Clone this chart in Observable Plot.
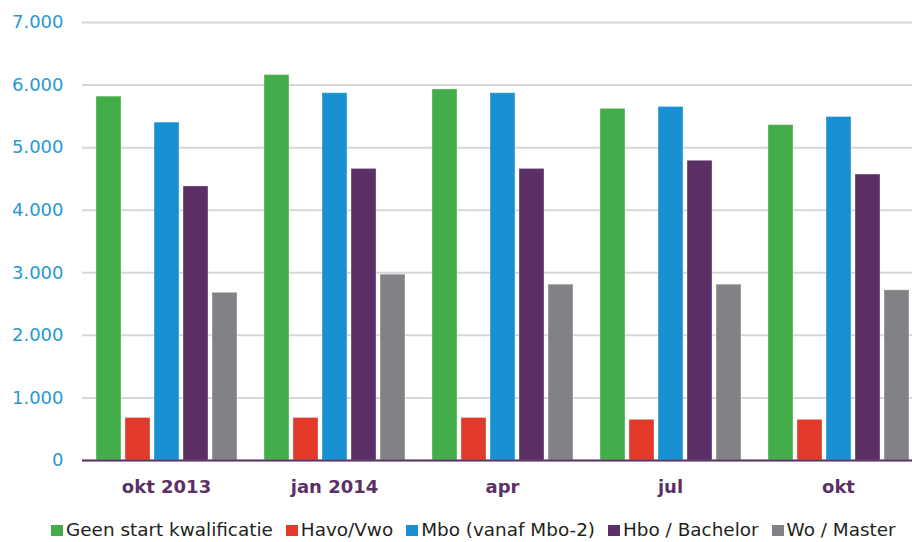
<!DOCTYPE html>
<html>
<head>
<meta charset="utf-8">
<script src="https://cdn.jsdelivr.net/npm/d3@7"></script>
<script src="https://cdn.jsdelivr.net/npm/@observablehq/plot@0.6"></script>
<style>
  html, body { margin: 0; padding: 0; background: #fff; overflow: hidden; }
  #wrap { position: relative; width: 912px; height: 542px; overflow: hidden; }
  #chart { position: absolute; left: 0; top: 0; }
  #legend { position: absolute; left: 51px; top: 520px; }
  .lg-swatches { font-family: "DejaVu Sans", sans-serif !important; font-size: 18.4px !important; line-height: 20px; color: #231f20; margin: 0 !important; }
  .lg-swatches-wrap { min-height: 0 !important; flex-wrap: nowrap !important; white-space: nowrap; }
  .lg-swatch { margin-right: 13px !important; }
  .lg-swatch > svg { margin-right: 3px !important; }
</style>
</head>
<body>
<div id="wrap"><div id="chart"></div><div id="legend"></div></div>
<script>
const periods = ["okt 2013", "jan 2014", "apr", "jul", "okt"];
const series = ["Geen start kwalificatie", "Havo/Vwo", "Mbo (vanaf Mbo-2)", "Hbo / Bachelor", "Wo / Master"];
const geen = [5815, 6160, 5930, 5620, 5360];
const havo = [680, 680, 680, 650, 650];
const mbo = [5400, 5870, 5870, 5650, 5490];
const hbo = [4380, 4660, 4660, 4790, 4570];
const wo = [2680, 2970, 2810, 2810, 2720];
const colors = ["#43ad49", "#e23a2a", "#1890d2", "#5a3066", "#808285"];
const yTicks = [0, 1000, 2000, 3000, 4000, 5000, 6000, 7000];

const values = [geen, havo, mbo, hbo, wo];
const data = [];
periods.forEach((p, j) => {
  series.forEach((s, i) => data.push({period: p, series: s, value: values[i][j]}));
});

const fmt = d => d3.format(",")(d).replace(/,/g, ".");

const chart = Plot.plot({
  width: 912,
  height: 508,
  marginLeft: 81,
  marginRight: -10,
  marginTop: 22,
  marginBottom: 48,
  style: {fontFamily: "DejaVu Sans, sans-serif", background: "white"},
  fx: {domain: periods, paddingInner: 0, paddingOuter: 0, label: null},
  x: {domain: series, paddingInner: 0.15, paddingOuter: 0.43, axis: null, label: null},
  y: {domain: [0, 7000], label: null},
  color: {domain: series, range: colors},
  marks: [
    Plot.gridY(yTicks, {stroke: "#d6d6d6", strokeOpacity: 1, strokeWidth: 2}),
    Plot.axisY(yTicks, {tickSize: 0, tickPadding: 19, tickFormat: fmt, fontSize: 18, fill: "#2898d5", label: null}),
    Plot.barY(data, {fx: "period", x: "series", y: "value", fill: "series", stroke: "white", strokeOpacity: 0.35, strokeWidth: 1}),
    Plot.ruleY([0], {stroke: "#5c3268", strokeWidth: 2}),
    Plot.axisFx({anchor: "bottom", tickSize: 0, tickPadding: 20, fontSize: 18, fontWeight: "bold", fill: "#5a3066", label: null})
  ]
});
document.getElementById("chart").appendChild(chart);

const leg = Plot.legend({
  color: {domain: series, range: colors},
  swatchWidth: 12,
  swatchHeight: 11,
  className: "lg"
});
document.getElementById("legend").appendChild(leg);
</script>
</body>
</html>
